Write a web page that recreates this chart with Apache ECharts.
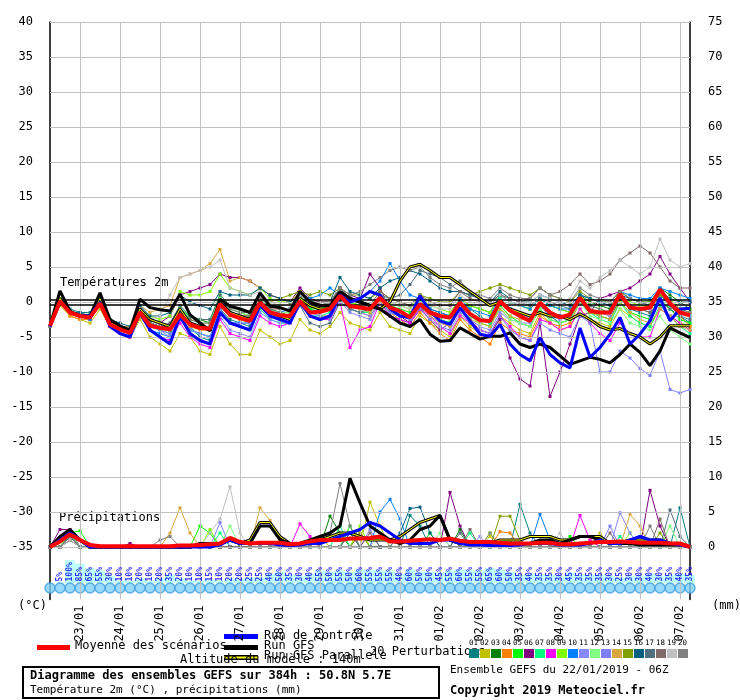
<!DOCTYPE html>
<html><head><meta charset="utf-8">
<script src="https://cdn.jsdelivr.net/npm/echarts@6/dist/echarts.min.js"></script>
<style>html,body{margin:0;padding:0;background:#fff}#c{width:740px;height:700px}</style>
</head><body><div id="c"></div>
<script>
const dateLabels=['23/01','24/01','25/01','26/01','27/01','28/01','29/01','30/01','31/01','01/02','02/02','03/02','04/02','05/02','06/02','07/02'];
const tempTicks=[-35,-30,-25,-20,-15,-10,-5,0,5,10,15,20,25,30,35,40];
const precipTicks=[0,5,10,15,20,25,30,35,40,45,50,55,60,65,70,75];
const pertColors=['#008080','#c0c000','#008000','#ff8000','#00ff00','#800080','#00ff80','#ff00ff','#80ff00','#0080ff','#8888ff','#80ff80','#8080ff','#d8a840','#80a000','#006080','#507080','#806a6a','#c0c0c0','#808080'];
const meanT=[-3.4,0.1,-1.5,-2.0,-2.2,-0.2,-3.2,-3.9,-4.4,-1.5,-3.4,-3.7,-3.9,-1.8,-3.2,-3.7,-3.8,-0.3,-1.8,-2.3,-2.7,-0.1,-1.5,-1.9,-2.0,0.1,-1.5,-1.4,-1.0,0.9,-0.6,-0.8,-1.0,0.6,-0.8,-1.3,-2.2,-0.3,-1.5,-2.0,-2.2,-0.1,-1.7,-2.6,-2.7,0.1,-1.2,-2.0,-2.7,-0.1,-1.5,-2.2,-1.8,0.6,-1.3,-1.5,-1.5,1.1,-0.8,-1.0,-0.8,1.8,-0.2,-1.5,-1.9];
const gfsT=[-3.4,1.6,-1.3,-2,-2,1.3,-2.5,-3.4,-4.1,0.4,-0.8,-1.1,-1.3,1.1,-1.8,-3,-4.1,0.4,-0.6,-1,-1.5,1.3,-0.6,-0.8,-1.3,1.5,0,-0.5,-0.5,1.5,0.5,0,-0.5,-1,-2,-3,-3.5,-2.5,-4.6,-5.6,-5.5,-3.7,-4.5,-5.3,-4.9,-4.9,-4.4,-6,-6.5,-6,-6.5,-7.7,-8.9,-8.4,-7.9,-8.2,-8.7,-7.5,-6,-7.2,-9.1,-7,-3.7,-4.4,-5.1];
const ctrlT=[-3.5,0,-1.5,-2,-2,0,-3.5,-4.5,-5,-1.5,-4,-5,-6,-2,-4.5,-5.5,-6,-1.5,-3,-3.5,-4,-0.5,-2,-2.5,-3,0,-2,-2.5,-2,1,0,0.5,1.5,1,-1,-2,-2.2,0.9,-1.3,-2.7,-3.2,-0.8,-2.7,-4.6,-4.9,-3.2,-6,-7.5,-8.4,-5.1,-7.5,-8.7,-9.4,-3.7,-7.9,-6.5,-4.6,-2.2,-6,-4.6,-2.7,0.6,-2.7,-1,-0.9];
const paraT=[-3.5,0.5,-1.5,-2,-2,0.5,-3,-3.5,-4,-1,-2.5,-3,-3.5,-1,-3,-3.5,-4,0,-1.5,-2,-2.5,0,-1.5,-2,-2.5,0.5,-0.5,-1,-1,1,0.5,0,-0.5,-1,0,3,5,5.4,4.5,3.5,3.5,2.5,1.5,0.5,-0.5,0,-1,-1.5,-2,-1.5,-2,-2,-2.5,-1.7,-2.5,-3.5,-4,-3.8,-4.5,-5,-6,-5,-3.4,-3.4,-3.4];
const pertT=[
[-3.5,0,-1,-1.5,-1.5,0.5,-2.5,-3.5,-4,-1,-3,-3.5,-4,-1.5,-3.5,-5,-5.5,-1,-2.5,-3,-3.5,-0.5,-2,-2.5,-3,0,-1,-1.5,-1,1,-0.5,-1,-1.5,0,-2,-2.5,-3,-1,-1.5,-2.5,-3,0,-1,-2,-3,0.5,-1,-1.5,-2,-0.5,-2,-3,-2.5,0,-1.5,-2,-2.5,0.5,-1,-1.5,-2,1,-0.5,-2,-3],
[-3.5,-0.5,-2,-2.5,-3,-1,-3.5,-4.5,-5,-2.5,-5,-6,-7,-4.5,-5,-7,-7.5,-3.5,-6,-7.5,-7.5,-4,-5,-6,-5.5,-2.5,-4,-4.5,-3.5,-1.5,-3,-3.5,-4,-1.5,-3.5,-4,-4.5,-2,-3,-4,-5,-2,-3.5,-4.5,-5,-2,-3,-4,-4.5,-1.5,-3,-4,-3.5,-1,-2.5,-3,-3.5,-1,-2,-3,-3.5,-1,-2,-3,-3.5],
[-3.5,0.5,-1.5,-2,-2,0,-3,-4,-4.5,-1.5,-3,-3.5,-4,-1,-2,-2.5,-3,0.5,-1,-1.5,-2,0,-1,-1.5,-2,1,0.5,0,0,2,0,-0.5,-1,0.5,-1,-1.5,-2,0,-1,-1.5,-2,0.5,-0.5,-1,-1.5,1,0,-0.5,-1,0.5,-0.5,-1,-1.5,1,0,-0.5,-1,1.5,0.5,0,0,2,1,0,-1],
[-3.5,0,-2,-2.5,-2.5,-0.5,-3.5,-4.5,-5,-2,-3.5,-4,-4.5,-2,-3.5,-4,-4,-0.5,-2,-2.5,-3,0,-1.5,-2,-2,0,-1.5,-2,-2,0.5,-1,-1.5,-2,0,-1.5,-2.5,-3.5,-1.5,-3,-4.5,-5.5,-2.5,-4,-5,-6,-3,-4,-4.5,-5,-2,-3,-3.5,-3,0,-1,-1.5,-2,1,-0.5,-1,-1.5,1.5,0,-2,-3.5],
[-3.5,0.5,-1.5,-2,-2,0,-3,-3.5,-4,-1,-3,-3.5,-3.5,-1,-2,-2.5,-2.5,1,-0.5,-1,-1.5,0.5,-1,-1.5,-1.5,0.5,-1,-1,-0.5,1.5,0,-0.5,-1,1,-0.5,-1,-1.5,0,-1.5,-2.5,-3,-0.5,-2,-3,-3.5,-0.5,-2,-3,-3.5,-1,-2.5,-3,-2.5,0,-1.5,-2,-2.5,0,-1.5,-2,-2.5,0.5,-1,-2.5,-3],
[-3.5,0,-1.5,-2,-2,0,-3,-3.5,-4,-1,-2.5,-3,-2,1,1.5,2,2.5,4,3.5,3.5,3,2,1,0.5,0,2,0.5,0,0,2,1,0.5,4,2,-1,-2,-3,-1,-2.5,-4,-3,-1,-2.5,-4,-4.5,-2.5,-8,-11,-12,-3,-13.5,-10,-6,-2,-1.5,0.5,1,1.5,2,3,4,6.5,4,2,0],
[-3.5,0,-1.5,-2,-2,0,-3,-4,-4.5,-1.5,-3.5,-4,-4.5,-2,-4,-4.5,-5,-1.5,-3,-3.5,-4,-1,-2.5,-3,-3,-0.5,-2,-2,-1.5,0.5,-1,-1.5,-1.5,0.5,-1.5,-2,-2.5,-0.5,-1.5,-2.5,-3,-0.5,-2,-2.5,-3,0.5,-1,-2,-2.5,0,-1.5,-2,-2.5,0,-1.5,-2.5,-3,0,-2,-3,-3.5,-0.5,-2,-3.5,-4.5],
[-3.5,0,-1.5,-2,-2.5,0,-3.5,-4.5,-5,-2,-4,-5,-5.5,-3,-5,-6,-6.5,-2.5,-4.5,-5,-5.5,-2,-3,-3.5,-3,-0.5,-2,-2.5,-2.5,0,-6.5,-4,-3.5,0,-2,-2.5,-3,-1,-2,-3.5,-4.5,-2,-3,-4,-4.5,-2,-3.5,-5,-5.5,-2.5,-3,-4,-3.5,-1,-3,-4.5,-5.5,-3,-4.5,-5,-5,-1,-2,-3,-4],
[-3.5,0.5,-1.5,-2,-2,0,-2.5,-3.5,-4,-1,-2,-2.5,-2,1.5,1,1,1.5,4,2,1.5,1,2,0.5,0,0,1.5,0,-0.5,0,1.5,0,-0.5,-1,1,0,-0.5,-1,1,-0.5,-1,-1.5,0.5,-0.5,-1,-1.5,1,0,-0.5,-1,0.5,-0.5,-1,-1.5,1,-0.5,-1,-1.5,1,0,-0.5,-0.5,1.5,0.5,-1,-2],
[-3.5,0,-1.5,-2,-2.5,-0.5,-3,-4,-4.5,-2,-4,-4.5,-5,-2.5,-4,-4.5,-5,-1.5,-3,-3,-3,-0.5,-1.5,-1.5,-1,1,0.5,1,2,1,0,0.5,1.5,3,5.5,3,1,0.5,-1,-1.5,-2,0.5,-1,-1.5,-2,1,0,-0.5,-1,0.5,-0.5,-1,-1,1,0.5,0,0,1.5,1,0.5,0.5,2,1.5,1,0.5],
[-3.5,0,-1.5,-2,-2,0,-3,-4,-4.5,-1.5,-3.5,-4,-5,-2,-4.5,-5.5,-6,-2,-4,-4.5,-5,-1.5,-2.5,-3,-3,-0.5,-2,-2.5,-2,0,-1.5,-2,-2.5,0,-1.5,-2,-2.5,-0.5,-2,-3,-3.5,-1,-2.5,-3.5,-4,-1.5,-2.5,-3,-3,-0.5,-2,-2.5,-2,0.5,-1,-1.5,-2,1,-0.5,-1,-1,1.5,0,-1,-2],
[-3.5,0,-1.5,-2,-2,0,-3,-3.5,-4,-1,-3,-3.5,-3.5,-0.5,-2.5,-3,-3,0.5,-1,-1.5,-2,0.5,-1,-1.5,-1.5,1,-0.5,-1,-1,1,-0.5,-1,-1.5,0.5,-1,-1.5,-2,0,-1.5,-2,-2.5,-0.5,-2,-3,-3.5,-1,-2.5,-3,-3.5,-1,-2.5,-3,-2.5,0,-2,-2.5,-3,-1,-3,-3.5,-4,-2,-4,-5,-6],
[-3.5,0,-1.5,-2,-2,0,-3,-3.5,-4,-1.5,-3.5,-4,-4.5,-2,-4,-4.5,-5,-1,-3,-3,-3,0,-1.5,-2,-2,0,-1.5,-2,-2.5,0.5,-1,-1.5,-2,0,-1.5,-2,-2.5,-1,-2.5,-3.5,-4,-1.5,-3,-4,-4.5,-2,-4,-5,-5.5,-3,-4,-4.5,-5,-2,-3,-10,-10,-7,-8,-9.5,-10.5,-7,-12.5,-13,-12.5],
[-3.5,0,-1.5,-2,-2,0,-3,-3.5,-3.5,-0.5,-1.5,-1,-0.5,3.5,4,4.5,5.5,7.5,3,3.5,3,2,1,0.5,0,1.5,0,-0.5,-1,0.5,-0.5,-1,-1.5,0,-1,-1.5,-2,-0.5,-2,-3,-3.5,-1,-2.5,-3,-3.5,-1,-2,-2.5,-2.5,0,-1.5,-2,-2,0.5,-1.5,-2,-2.5,0,-1.5,-2.5,-3,-1,-2,-3.5,-4],
[-3.5,0.5,-1.5,-2,-2,0,-3,-3.5,-4,-1,-3,-3.5,-4,-1.5,-3,-3.5,-3.5,0,-1.5,-2,-2,0.5,0,0.5,1,1.5,1,1.5,1,2,1,1,0.5,1.5,0.5,0,-0.5,1,0.5,0,0,1.5,1,1.5,2,2.5,2,1.5,1,2,1,0.5,0,1.5,0.5,0,0,1.5,0.5,0,0,1,0,-1,-1.5],
[-3.5,0,-1.5,-1.5,-2,0,-2.5,-3,-3.5,-0.5,-2,-2,-1.5,1,0,-0.5,-1,1.5,1,1,1,2,1,0.5,0,1,0,-0.5,0,3.5,1.5,1,0.5,2,3,3.5,4.5,4,3,2,1.5,1.5,1,0.5,0,1.5,0.5,0,0,1,0.5,0,-0.5,1,0.5,0,-0.5,1,0.5,0,-0.5,1.5,0.5,0,0],
[-3.5,0,-1.5,-2,-2,0,-3,-3.5,-4,-1,-3,-3.5,-3,-0.5,-2,-2.5,-2.5,1,-0.5,-1,-1.5,1,-1,-2,-2.5,-0.5,-3,-3.5,-3,0,-1,-1.5,-1,1,0.5,1,2.5,4.5,4,3.5,2.5,1.5,1,0.5,0,1,0.5,0,-0.5,0.5,0,-0.5,-1,0,-0.5,-1,-1.5,0.5,-0.5,-1,-1.5,0,-1,-2,-2.5],
[-3.5,0,-1.5,-2,-2,0,-3,-3.5,-4,-1,-3,-3.5,-3.5,-1,-2.5,-3,-3,0,-1.5,-2,-2,0.5,-1,-1,-1,1,0,0,0,2,0.5,0,-0.5,1.5,0.5,0,-0.5,1,0,-0.5,-0.5,1.5,0.5,0,0,1,0.5,0,0.5,2,1,1.5,2.5,4,2.5,3,4,6,7,8,7,5,3,2,2],
[-3.5,0,-1.5,-2,-2,0,-3,-3.5,-4,-1,-2.5,-2,1,3.5,4,4.5,5,6,2,1.5,1,1.5,0,-0.5,-0.5,1,0,-0.5,0,1.5,0.5,0,-0.5,1,0,-0.5,-1,0.5,-0.5,-1,-1,1,0,-0.5,-0.5,1,0,-0.5,0,1,0.5,0,0.5,3,2,3.5,4.5,6,5,4,5,9,6,5,5.5],
[-3.5,0,-1.5,-2,-2,0,-3,-3.5,-4,-1.5,-3,-3.5,-4,-1.5,-3,-3.5,-3.5,0,-1,-1.5,-1.5,0.5,-1,-1.5,-2,0.5,-0.5,-0.5,0,2,1,1.5,2.5,3.5,4.5,5,4.5,5,3.5,2.5,2,3,1.5,1,0.5,2,1,0.5,0.5,2,1,0.5,0,2,1,0.5,0,1.5,0.5,0,-0.5,1.5,0,-1,-1.5]
];
const meanP=[0,0.8,1.8,1.0,0.3,0.1,0.1,0.1,0.1,0.1,0.1,0.1,0.1,0.2,0.2,0.3,0.4,0.5,1.3,0.7,0.5,0.6,0.6,0.6,0.4,0.5,0.8,1.0,1.0,1.0,1.2,1.2,1.3,1.5,0.8,0.8,0.9,1.0,1.1,1.0,1.2,0.9,0.7,0.7,0.7,0.6,0.5,0.5,0.5,0.6,0.6,0.4,0.4,0.5,0.6,0.7,0.7,0.8,0.7,0.6,0.6,0.6,0.5,0.5,0];
const gfsP=[0,1.5,2.5,1,0,0,0,0,0,0,0,0,0,0,0,0.5,0.5,0.5,1,0.5,0.5,3,3,1,0.5,0.5,1,1.5,2,3,9.8,6.3,3,2,1,0.5,1,2.5,3,4.5,1,0.5,0.5,0.5,0.3,0.3,0.3,0.5,0.5,1,1,0.5,1,1.5,1.5,1,0.5,0.5,0.5,0.3,0.3,0.3,0.3,0.3,0];
const ctrlP=[0,1,2,1,0,0,0,0,0,0,0,0,0,0,0,0,0,0.3,1,0.5,0.5,0.5,0.5,0.3,0.2,0.3,0.5,0.5,1,1.5,2,2.5,3.5,3,2,1,0.5,0.5,0.5,1,1,0.5,0.3,0.3,0.2,0.2,0.2,0.3,0.5,0.5,0.5,0.3,0.3,0.3,0.5,1,0.5,0.5,1,1.5,1,1,0.5,0.3,0];
const paraP=[0,1.2,2.2,1,0,0,0,0,0,0,0,0,0,0,0,0.3,0.3,0.5,1,0.5,1,3.5,3.5,1.5,0.5,0.5,0.5,1,1.5,2,2,1.5,1,1,1,1.5,2.5,3.5,4,4.5,1,0.5,0.5,0.5,0.5,1,1,1,1.5,1.5,1.5,1,1,1.5,1.5,1.5,0.5,0.5,1,1,1,1,0.5,0.5,0];
const pertPrecipPeaks=[
[[2,2],[3,1],[30,2],[36,4.5],[37,3],[47,6.1],[48,2],[63,5.6]],
[[2,2.5],[3,1],[27,1.5],[32,6.4],[33,3],[44,1.5],[55,2]],
[[2,2],[28,4.4],[29,2],[41,2.5],[59,1.5]],
[[2,1.5],[26,1],[31,2],[45,2.2],[46,2],[54,1]],
[[2,2],[3,2.3],[15,3],[16,2],[30,3],[38,2],[52,1.5]],
[[1,2.5],[2,2.5],[8,0.5],[40,7.8],[41,3],[60,8.1],[61,3]],
[[2,1.5],[17,2],[29,3],[42,2],[57,1.5]],
[[2,1.5],[25,3.3],[26,1.5],[53,4.5],[54,1]],
[[2,2],[16,2.5],[31,3],[44,2],[58,2]],
[[2,1.5],[33,5],[34,6.8],[35,4],[49,4.7],[50,1]],
[[2,1.5],[30,2],[43,1.5],[57,4.9],[58,2]],
[[2,2],[18,3],[39,2],[50,1.5],[62,3]],
[[2,1.5],[17,3.5],[32,2.5],[56,3]],
[[2,1],[12,2],[13,5.6],[14,2],[21,5.6],[22,3.8],[23,1],[58,4.7],[59,3]],
[[2,1.5],[31,2],[45,4.4],[46,4.4],[47,1],[61,2]],
[[2,1.5],[35,2],[36,5.5],[37,5.7],[38,2]],
[[2,1],[30,2],[41,2],[62,5.3],[63,1.5]],
[[2,1],[32,2],[42,2.5],[56,2],[61,4]],
[[2,1],[16,2],[17,4],[18,8.6],[19,2],[33,2],[51,2]],
[[2,1.5],[11,1],[12,1.5],[28,2],[29,9.1],[30,3],[44,2],[60,3]]
];
const probLabels=[5,100,85,65,55,30,10,10,20,10,20,35,20,10,10,15,10,20,20,25,25,40,50,35,30,40,55,50,55,50,60,55,55,55,40,60,50,50,45,55,60,55,55,65,60,50,35,40,35,35,30,45,35,35,35,30,25,30,30,40,30,35,40,35];

const N=65, H=6;
const xy=a=>a.map((v,i)=>[i*H,v]);
function peaksToArr(pk){const a=new Array(N).fill(0);pk.forEach(([i,v])=>a[i]=v);return a;}
const mono='DejaVu Sans Mono';
const series=[];
series.push({type:'line',data:[],xAxisIndex:0,yAxisIndex:0,silent:true,
 markLine:{symbol:'none',silent:true,label:{show:false},animation:false,
  lineStyle:{color:'#c0c0c0',type:'solid',width:1},
  data:tempTicks.map(v=>({yAxis:v})).concat(dateLabels.map((d,k)=>({xAxis:18+24*k})))}});
series.push({type:'line',data:[],xAxisIndex:0,yAxisIndex:0,silent:true,z:3,
 markLine:{symbol:'none',silent:true,label:{show:false},animation:false,
  lineStyle:{color:'#000',type:'solid',width:1.5},data:[{yAxis:0.35},{yAxis:-0.35}]}});
const T=(d,o)=>Object.assign({type:'line',data:d,xAxisIndex:0,yAxisIndex:0,animation:false},o);
const P=(d,o)=>Object.assign({type:'line',data:d,xAxisIndex:0,yAxisIndex:1,animation:false},o);
pertT.forEach((a,k)=>{
 const st={symbol:'rect',symbolSize:3,lineStyle:{width:1,color:pertColors[k]},itemStyle:{color:pertColors[k]},z:4};
 series.push(T(xy(a),st));
 series.push(P(xy(peaksToArr(pertPrecipPeaks[k])),st));
});
const runs=[[paraT,paraP,'#000',3],[gfsT,gfsP,'#000',3],[ctrlT,ctrlP,'#0000ff',3]];
runs.forEach(([t,p,c,w],k)=>{
 [[T,t],[P,p]].forEach(([f,d])=>{
  series.push(f(xy(d),{symbol:'none',lineStyle:{width:w,color:c},z:5+k}));
  if(k===0) series.push(f(xy(d),{symbol:'none',lineStyle:{width:1,color:'#ffff00'},z:5}));
 });
});
series.push(T(xy(meanT),{symbol:'none',lineStyle:{width:4,color:'#ff0000'},z:9}));
series.push(P(xy(meanP),{symbol:'none',lineStyle:{width:4,color:'#ff0000'},z:9}));
series.push({type:'bar',xAxisIndex:1,yAxisIndex:2,data:probLabels.map((v,i)=>[(i+1)*H,v]),barWidth:10,itemStyle:{color:'#c0ffff'},animation:false,silent:true});
series.push({type:'scatter',xAxisIndex:1,yAxisIndex:2,data:probLabels.map((v,i)=>[(i+1)*H,0]),symbolSize:1,itemStyle:{color:'rgba(0,0,0,0)'},animation:false,z:6,
 label:{show:true,rotate:90,position:'top',distance:1,align:'left',verticalAlign:'middle',formatter:p=>probLabels[p.dataIndex]+'%',color:'#0000ff',fontFamily:mono,fontSize:8,fontWeight:'bold'}});
series.push({type:'scatter',xAxisIndex:2,yAxisIndex:3,data:meanT.map((v,i)=>[i*H,0]),symbol:'circle',symbolSize:10,
 itemStyle:{color:'#80d0f8',borderColor:'#40a0e0',borderWidth:1.5},animation:false});

const txt=(x,y,t,o)=>Object.assign({type:'text',left:x,top:y,style:Object.assign({text:t,fontFamily:mono,fontSize:12,fill:'#000'},o||{})});
const rect=(x,y,w,h,c)=>({type:'rect',shape:{x,y,width:w,height:h},style:{fill:c}});
const graphic=[
 txt(60,277,'Températures 2m'),txt(59,512,'Précipitations'),
 txt(18,600,'(°C)'),txt(712,600,'(mm)'),
 rect(37,645,33,5,'#ff0000'),txt(75,640,'Moyenne des scénarios'),
 rect(224,634,34,5,'#0000ff'),txt(264,630,'Run de contrôle'),
 rect(224,645,34,5,'#000'),txt(264,640,'Run GFS'),
 rect(224,655,34,5,'#000'),rect(224,656.5,34,2,'#ffff00'),txt(264,650,'Run GFS Parallele'),
 txt(180,654,'Altitude du modèle : 140m'),
 txt(370,646,'20 Perturbations'),
 {type:'rect',shape:{x:23,y:667,width:416,height:31},style:{fill:'none',stroke:'#000',lineWidth:2}},
 txt(30,670,'Diagramme des ensembles GEFS sur 384h : 50.8N 5.7E',{fontWeight:'bold',fontSize:12}),
 txt(30,685,'Température 2m (°C) , précipitations (mm)',{fontSize:11}),
 txt(450,665,'Ensemble GEFS du 22/01/2019 - 06Z',{fontSize:11}),
 txt(450,685,'Copyright 2019 Meteociel.fr',{fontWeight:'bold'})
];
pertColors.forEach((c,k)=>{
 graphic.push(rect(469+k*11,649,10,9,c));
 graphic.push(txt(469+k*11,639,String(k+1).padStart(2,'0'),{fontSize:7.5}));
});

const chart=echarts.init(document.getElementById('c'));
chart.setOption({
 animation:false,
 grid:[{left:50,right:50,top:22,bottom:100.5},{left:50,right:50,top:560,height:23},{left:50,right:50,top:583,height:10}],
 xAxis:[
  {type:'value',gridIndex:0,min:0,max:384,splitLine:{show:false},axisLine:{show:false},axisTick:{show:false},
   axisLabel:{customValues:dateLabels.map((d,k)=>18+24*k),formatter:v=>dateLabels[(v-18)/24],rotate:90,fontFamily:mono,fontSize:12,color:'#000',margin:6}},
  {type:'value',gridIndex:1,min:0,max:384,show:false},
  {type:'value',gridIndex:2,min:0,max:384,show:false}],
 yAxis:[
  {type:'value',gridIndex:0,min:-42.5,max:40,splitLine:{show:false},axisLine:{show:true,lineStyle:{color:'#000',width:1.5}},axisTick:{show:false},
   axisLabel:{customValues:tempTicks,fontFamily:mono,fontSize:12,color:'#000',margin:17}},
  {type:'value',gridIndex:0,min:-7.5,max:75,position:'right',splitLine:{show:false},axisLine:{show:true,lineStyle:{color:'#000',width:1.5}},axisTick:{show:false},
   axisLabel:{customValues:precipTicks,fontFamily:mono,fontSize:12,color:'#000',margin:18}},
  {type:'value',gridIndex:1,min:0,max:100,show:false},
  {type:'value',gridIndex:2,min:-1,max:1,show:false}],
 series, graphic
});
</script></body></html>
